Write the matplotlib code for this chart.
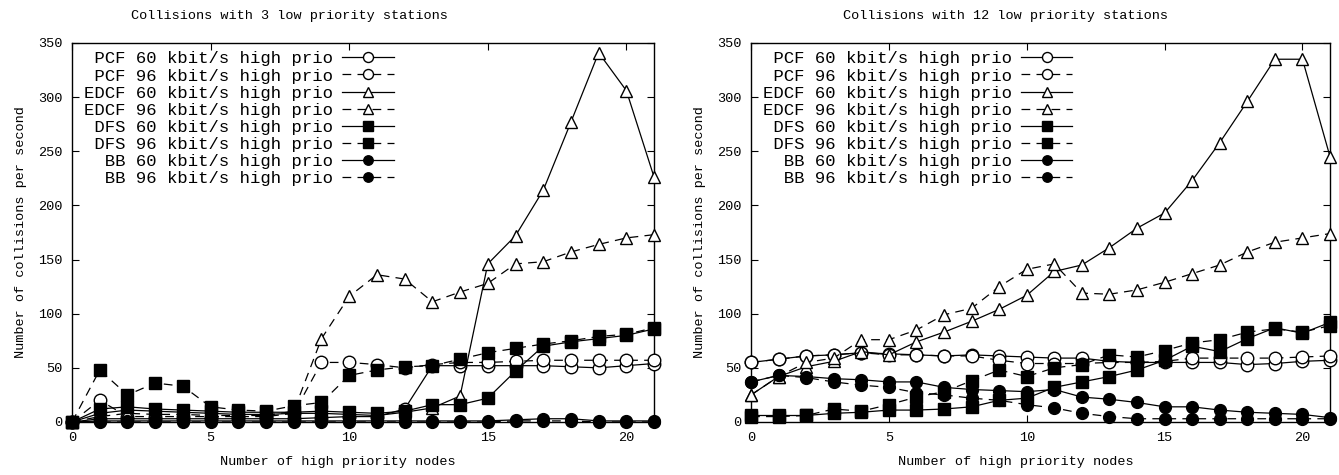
import matplotlib.pyplot as plt

plt.rcParams['font.family'] = ['Liberation Mono', 'DejaVu Sans Mono']

nodes = list(range(22))

labels = [
    " PCF 60 kbit/s high prio",
    " PCF 96 kbit/s high prio",
    "EDCF 60 kbit/s high prio",
    "EDCF 96 kbit/s high prio",
    " DFS 60 kbit/s high prio",
    " DFS 96 kbit/s high prio",
    "  BB 60 kbit/s high prio",
    "  BB 96 kbit/s high prio",
]

# 3 low priority stations
pcf60_3 = [0, 3, 3, 3, 3, 3, 3, 3, 3, 4, 5, 5, 12, 52, 52, 52, 52, 52, 51, 50, 52, 54]
pcf96_3 = [0, 20, 5, 5, 5, 5, 5, 5, 8, 55, 55, 53, 50, 53, 55, 55, 56, 57, 57, 57, 57, 57]
edcf60_3 = [0, 8, 11, 10, 9, 8, 7, 7, 8, 8, 7, 6, 9, 13, 24, 146, 172, 214, 277, 341, 306, 226]
edcf96_3 = [0, 5, 8, 7, 7, 6, 6, 6, 10, 77, 116, 136, 132, 111, 120, 128, 146, 148, 157, 164, 170, 173]
dfs60_3 = [0, 12, 14, 12, 11, 10, 9, 9, 9, 10, 9, 8, 10, 16, 16, 22, 47, 70, 74, 77, 80, 86]
dfs96_3 = [0, 48, 25, 36, 33, 14, 11, 10, 15, 18, 43, 48, 51, 52, 58, 64, 68, 72, 75, 79, 81, 87]
bb60_3 = [0, 1, 1, 1, 1, 1, 1, 1, 1, 1, 1, 1, 1, 1, 1, 1, 2, 3, 3, 1, 1, 1]
bb96_3 = [0, 0, 0, 0, 0, 0, 0, 0, 0, 0, 0, 0, 0, 0, 0, 0, 1, 1, 1, 0, 0, 0]

# 12 low priority stations
pcf60_12 = [55, 58, 61, 62, 64, 63, 62, 61, 62, 61, 60, 59, 59, 56, 55, 55, 55, 55, 53, 54, 56, 57]
pcf96_12 = [55, 58, 61, 62, 64, 62, 62, 61, 61, 57, 54, 54, 54, 55, 55, 56, 59, 59, 59, 59, 60, 61]
edcf60_12 = [25, 42, 51, 56, 65, 62, 74, 83, 93, 104, 117, 139, 145, 161, 179, 193, 223, 258, 296, 335, 335, 245]
edcf96_12 = [25, 42, 55, 59, 76, 76, 85, 99, 105, 125, 141, 146, 119, 118, 122, 129, 137, 145, 157, 166, 170, 174]
dfs60_12 = [6, 6, 6, 8, 9, 11, 11, 12, 14, 20, 22, 32, 37, 42, 48, 57, 70, 65, 77, 87, 82, 92]
dfs96_12 = [5, 5, 6, 12, 10, 16, 23, 28, 38, 48, 42, 50, 53, 62, 60, 66, 73, 76, 83, 86, 83, 89]
bb60_12 = [37, 43, 42, 40, 39, 37, 37, 32, 30, 29, 28, 30, 23, 21, 18, 14, 14, 11, 9, 8, 7, 4]
bb96_12 = [37, 43, 41, 37, 34, 32, 27, 25, 22, 20, 16, 13, 8, 5, 3, 3, 3, 3, 3, 3, 3, 3]

panels = [
    ("Collisions with 3 low priority stations", 0.373,
     [pcf60_3, pcf96_3, edcf60_3, edcf96_3, dfs60_3, dfs96_3, bb60_3, bb96_3]),
    ("Collisions with 12 low priority stations", 0.439,
     [pcf60_12, pcf96_12, edcf60_12, edcf96_12, dfs60_12, dfs96_12, bb60_12, bb96_12]),
]

markers = ['o', 'o', '^', '^', 's', 's', 'o', 'o']
faces = ['white', 'white', 'white', 'white', 'black', 'black', 'black', 'black']
sizes = [9, 9, 9, 9, 8.5, 8.5, 8.5, 8.5]
dashed = (0, (7, 5))

fig = plt.figure(figsize=(13.39, 4.75), dpi=100)
rects = [[0.0538, 0.1116, 0.4347, 0.7979], [0.5609, 0.1116, 0.4324, 0.7979]]

for rect, (title, title_x, series) in zip(rects, panels):
    ax = fig.add_axes(rect)
    for i, vals in enumerate(series):
        ax.plot(nodes, vals, color='black', lw=0.9,
                linestyle='-' if i % 2 == 0 else dashed,
                marker=markers[i], markersize=sizes[i], markerfacecolor=faces[i],
                markeredgecolor='black', markeredgewidth=1.0,
                label=labels[i], clip_on=False, zorder=3)
    ax.set_xlim(0, 21)
    ax.set_ylim(0, 350)
    ax.set_xticks([0, 5, 10, 15, 20])
    ax.set_yticks(range(0, 351, 50))
    ax.tick_params(direction='in', top=True, right=True, length=5, width=0.8,
                   labelsize=9.7, pad=7)
    for s in ax.spines.values():
        s.set_linewidth(1.0)
    ax.set_title(title, fontsize=9.7, pad=17, x=title_x)
    ax.set_xlabel("Number of high priority nodes", fontsize=9.7, labelpad=9, x=0.457)
    ax.set_ylabel("Number of collisions per second", fontsize=9.7, labelpad=8)
    ax.legend(loc='upper left', bbox_to_anchor=(0.021, 0.978), frameon=False,
              markerfirst=False, fontsize=12.4, handlelength=3.0,
              handletextpad=0.5, labelspacing=0.12, borderpad=0,
              borderaxespad=0, markerscale=0.8)

plt.savefig('out.png', dpi=100)
